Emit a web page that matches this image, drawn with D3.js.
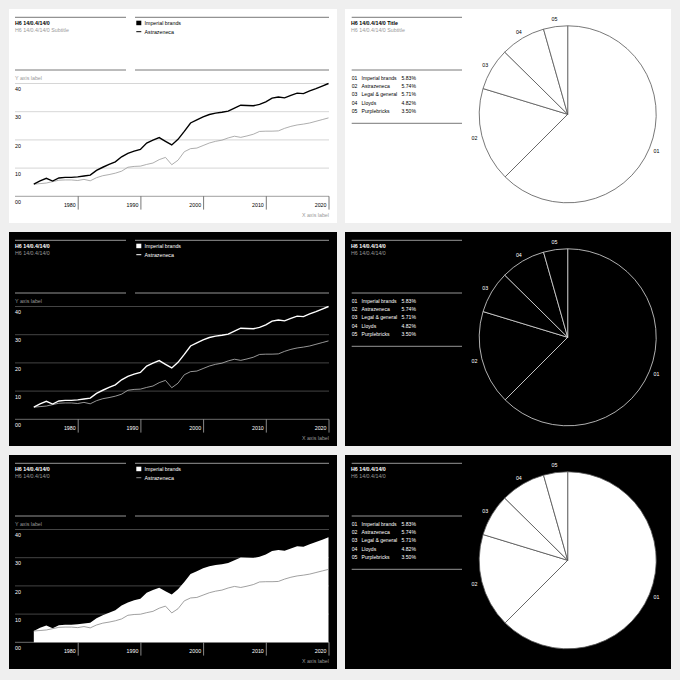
<!DOCTYPE html>
<html>
<head>
<meta charset="utf-8">
<script src="https://cdn.jsdelivr.net/npm/d3@7"></script>
<style>
  body { margin: 0; background: #efefef; }
  svg { display: block; font-family: "Liberation Sans", Arial, sans-serif; }
</style>
</head>
<body>
<div id="container"></div>
<script>
/* DATA */
const years = [1973, 1974, 1975, 1976, 1977, 1978, 1979, 1980, 1981, 1982,
  1983, 1984, 1985, 1986, 1987, 1988, 1989, 1990, 1991, 1992,
  1993, 1994, 1995, 1996, 1997, 1998, 1999, 2000, 2001, 2002,
  2003, 2004, 2005, 2006, 2007, 2008, 2009, 2010, 2011, 2012,
  2013, 2014, 2015, 2016, 2017, 2018, 2019, 2020]
const imperial = [4.3, 5.5, 6.4, 5.4, 6.5, 6.7, 6.7, 6.9, 7.2, 7.5,
  9.2, 10.3, 11.3, 12.2, 14.0, 15.2, 16.0, 16.6, 18.9, 19.9,
  20.8, 19.5, 18.2, 20.2, 23.0, 26.0, 27.1, 28.2, 29.0, 29.5,
  29.8, 30.2, 31.3, 32.3, 32.2, 32.1, 32.6, 33.5, 34.8, 35.2,
  34.9, 35.8, 36.6, 36.4, 37.4, 38.2, 39.1, 40.0]
const astrazeneca = [4.3, 4.5, 4.7, 5.2, 5.7, 5.8, 5.8, 5.6, 6.0, 5.5,
  6.6, 7.3, 7.7, 8.2, 8.9, 10.3, 10.6, 10.7, 11.3, 11.8,
  13.0, 13.8, 11.2, 12.8, 15.8, 16.9, 17.1, 18.0, 18.9, 19.5,
  19.9, 20.7, 21.3, 20.9, 21.4, 22.0, 23.0, 23.1, 23.1, 23.2,
  24.1, 24.8, 25.3, 25.6, 26.0, 26.6, 27.2, 27.8]
const seriesNames = ["Imperial brands", "Astrazeneca"]
const yTicks = [0, 10, 20, 30, 40]
const xTicks = [1980, 1990, 2000, 2010, 2020]

const pieCodes = ["01", "02", "03", "04", "05"]
const pieNames = ["Imperial brands", "Astrazeneca", "Legal & general", "Lloyds", "Purplebricks"]
const pieLabels = ["5.83%", "5.74%", "5.71%", "4.82%", "3.50%"]
const pieShares = [62.5, 17.2, 7.7, 8.2, 4.4]

/* THEMES */
const light = { bg: "#fff", fg: "#000", sub: "#999", rule: "#555", grid: "#ccc", axis: "#888", tick: "#555",
  second: "#999", pieFill: "#fff", pieStroke: "#555" }
const dark = { bg: "#000", fg: "#fff", sub: "#999", rule: "#bbb", grid: "#555", axis: "#888", tick: "#aaa",
  second: "#bbb", pieFill: "#000", pieStroke: "#ddd" }
const inverse = { bg: "#000", fg: "#fff", sub: "#999", rule: "#bbb", grid: "#555", axis: "#888", tick: "#aaa",
  second: "#888", pieFill: "#fff", pieStroke: "#555" }

const rows = [
  { y: 9, theme: light, area: false, lineSub: "H6 14/0.4/14/0 Subtitle",
    pieTitle: "H6 14/0.4/14/0 Title", pieSub: "H6 14/0.4/14/0 Subtitle" },
  { y: 232, theme: dark, area: false, lineSub: "H6 14/0.4/14/0",
    pieTitle: "H6 14/0.4/14/0", pieSub: "H6 14/0.4/14/0" },
  { y: 455, theme: inverse, area: true, lineSub: "H6 14/0.4/14/0",
    pieTitle: "H6 14/0.4/14/0", pieSub: "H6 14/0.4/14/0" },
]

const svg = d3.select("#container")
  .append("svg")
  .attr("width", 680)
  .attr("height", 680)

const fs = 5.3

rows.forEach(row => {
  drawLine(svg.append("g").attr("transform", `translate(9, ${row.y})`), row)
  drawPie(svg.append("g").attr("transform", `translate(345, ${row.y})`), row)
})

function header(g, t, title, sub) {
  g.append("text").attr("x", 6).attr("y", 15.5).attr("font-size", fs).attr("font-weight", "bold")
    .attr("fill", t.fg).text(title)
  g.append("text").attr("x", 6).attr("y", 23).attr("font-size", fs).attr("fill", t.sub).text(sub)
}

function rule(g, t, x1, x2, y) {
  g.append("line").attr("x1", x1).attr("x2", x2).attr("y1", y).attr("y2", y)
    .attr("stroke", t.rule).attr("stroke-width", 0.8)
}

function drawLine(g, row) {
  const t = row.theme
  g.append("rect").attr("width", 328).attr("height", 214).attr("fill", t.bg)

  const x = d3.scaleLinear().domain([1970, 2020]).range([6, 319.5])
  const y = d3.scaleLinear().domain([0, 40]).range([187.3, 74.5])
  const yArea = d3.scaleLinear().domain([0, 43]).range([187.3, 74.5])

  rule(g, t, 6, 117, 8.3); rule(g, t, 126, 320, 8.3)
  rule(g, t, 6, 117, 61); rule(g, t, 126, 320, 61)
  header(g, t, "H6 14/0.4/14/0", row.lineSub)

  // legend
  g.append("rect").attr("x", 127.3).attr("y", 11.7).attr("width", 5).attr("height", 4.5).attr("fill", t.fg)
  g.append("line").attr("x1", 127.3).attr("x2", 132.3).attr("y1", 22.7).attr("y2", 22.7)
    .attr("stroke", row.area ? t.second : t.fg).attr("stroke-width", 1)
  g.selectAll("text.leg")
    .data(seriesNames)
    .join("text")
    .attr("class", "leg")
    .attr("x", 135.5)
    .attr("y", (d, i) => 15.6 + i * 9.3)
    .attr("font-size", fs)
    .attr("fill", t.fg)
    .text(d => d)

  g.append("text").attr("x", 6).attr("y", 71).attr("font-size", fs).attr("fill", t.sub).text("Y axis label")

  // gridlines
  g.selectAll("line.grid")
    .data(yTicks)
    .join("line")
    .attr("class", "grid")
    .attr("x1", 6).attr("x2", 320)
    .attr("y1", d => y(d)).attr("y2", d => y(d))
    .attr("stroke", d => d === 0 ? t.axis : t.grid)
    .attr("stroke-width", 0.8)

  // data
  if (row.area) {
    const area = d3.area().x((d, i) => x(years[i])).y0(yArea(0)).y1(d => yArea(d))
    g.append("path").datum(imperial).attr("d", area).attr("fill", t.fg)
    const l2 = d3.line().x((d, i) => x(years[i])).y(d => yArea(d))
    g.append("path").datum(astrazeneca).attr("d", l2).attr("fill", "none")
      .attr("stroke", t.second).attr("stroke-width", 0.8)
  } else {
    const line = d3.line().x((d, i) => x(years[i])).y(d => y(d))
    g.append("path").datum(astrazeneca).attr("d", line).attr("fill", "none")
      .attr("stroke", t.second).attr("stroke-width", 0.8)
    g.append("path").datum(imperial).attr("d", line).attr("fill", "none")
      .attr("stroke", t.fg).attr("stroke-width", 1.4)
  }

  g.selectAll("text.ylab")
    .data(yTicks)
    .join("text")
    .attr("class", "ylab")
    .attr("x", 6)
    .attr("y", d => y(d) + 7.6)
    .attr("font-size", fs)
    .attr("fill", t.fg)
    .text(d => d3.format("02")(d))

  // x axis
  const xAxis = g.append("g")
    .attr("transform", `translate(0, ${y(0)})`)
    .call(d3.axisBottom(x).tickValues(xTicks).tickSize(13.3).tickFormat(d3.format("d")))
  xAxis.select(".domain").remove()
  xAxis.selectAll(".tick line").attr("stroke", t.tick).attr("stroke-width", 0.8)
  xAxis.selectAll(".tick text")
    .attr("x", -2.5).attr("y", 11).attr("dy", 0)
    .attr("text-anchor", "end")
    .attr("font-size", fs)
    .attr("font-family", null)
    .attr("fill", t.fg)

  g.append("text").attr("x", 320).attr("y", 208).attr("text-anchor", "end")
    .attr("font-size", fs).attr("fill", t.sub).text("X axis label")
}

function drawPie(g, row) {
  const t = row.theme
  g.append("rect").attr("width", 326).attr("height", 214).attr("fill", t.bg)

  rule(g, t, 6.7, 117, 8.3)
  rule(g, t, 6.7, 117, 61)
  rule(g, t, 6.7, 117, 114.3)
  header(g, t, row.pieTitle, row.pieSub)

  const rowsG = g.selectAll("g.item")
    .data(pieCodes)
    .join("g")
    .attr("class", "item")
    .attr("transform", (d, i) => `translate(0, ${70.6 + i * 8.4})`)
  rowsG.append("text").attr("x", 6.7).attr("font-size", 5.1).attr("fill", t.fg).text(d => d)
  rowsG.append("text").attr("x", 16.5).attr("font-size", 5.1).attr("fill", t.fg).text((d, i) => pieNames[i])
  rowsG.append("text").attr("x", 56.5).attr("font-size", 5.1).attr("fill", t.fg).text((d, i) => pieLabels[i])

  const r = 88.5
  const pie = d3.pie().sort(null)
  const arc = d3.arc().innerRadius(0).outerRadius(r)
  const labelArc = d3.arc().innerRadius(96).outerRadius(96)
  const arcs = pie(pieShares)

  const pg = g.append("g").attr("transform", "translate(222.7, 105.3)")
  pg.selectAll("path")
    .data(arcs)
    .join("path")
    .attr("d", arc)
    .attr("fill", t.pieFill)
    .attr("stroke", t.pieStroke)
    .attr("stroke-width", 0.8)
  pg.selectAll("text")
    .data(arcs)
    .join("text")
    .attr("transform", d => `translate(${labelArc.centroid(d)})`)
    .attr("text-anchor", "middle")
    .attr("dy", 2)
    .attr("font-size", fs)
    .attr("fill", t.fg)
    .text((d, i) => pieCodes[i])
}
</script>
</body>
</html>
